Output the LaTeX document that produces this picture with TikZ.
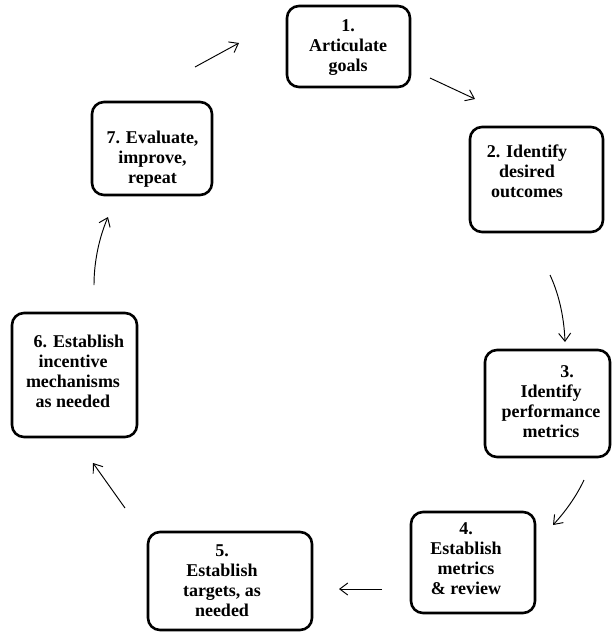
\documentclass[tikz,border=0pt]{standalone}
\usepackage{fontspec}
\setmainfont{Liberation Serif}
\usetikzlibrary{arrows.meta}
\begin{document}
\begin{tikzpicture}[x=1pt,y=-1pt,
  box/.style={draw=black,line width=2.6pt,rounded corners=12pt,inner sep=0pt,fill=white},
  txt/.style={align=center,inner sep=0pt,font=\bfseries\fontsize{18}{20}\selectfont},
  arr/.style={line width=0.95pt,-{Straight Barb[length=8pt,width=12pt,line width=0.95pt]}}]
\useasboundingbox (0,0) rectangle (611,632);
% boxes
\node[box,minimum width=123pt,minimum height=81pt] (b1) at (348.5,46.5) {};
\node[box,minimum width=133pt,minimum height=105pt] (b2) at (536.5,179.5) {};
\node[box,minimum width=125pt,minimum height=107pt] (b3) at (547.5,403.5) {};
\node[box,minimum width=124pt,minimum height=101pt] (b4) at (473,562.5) {};
\node[box,minimum width=164pt,minimum height=98pt] (b5) at (230,581) {};
\node[box,minimum width=125pt,minimum height=124pt] (b6) at (74.5,375) {};
\node[box,minimum width=120pt,minimum height=93pt] (b7) at (152,148.5) {};
% texts
\node[txt] (t1) at (348,48) {1.\\Articulate\\goals};
\node[txt] (t2) at (527,171) {2. Identify\\desired\\outcomes};
\node[txt] (t3) at (551,402) {\hspace*{32pt}3.\\Identify\\performance\\metrics};
\node[txt] (t4) at (466,559) {4.\\Establish\\metrics\\\& review};
\node[txt] (t5) at (222,581) {5.\\Establish\\targets, as\\needed};
\node[txt] (t6) at (73,371) {\hspace*{12pt}6. Establish\\incentive\\mechanisms\\as needed};
\node[txt] (t7) at (152.5,159) {7. Evaluate,\\improve,\\repeat};
% arrow end points
\coordinate (p71) at (195,67);  \coordinate (q71) at (239,43);
\coordinate (p12) at (430,78);  \coordinate (q12) at (475,99);
\coordinate (p23) at (550,275); \coordinate (q23) at (565,342);
\coordinate (p34) at (584,480); \coordinate (q34) at (553,525);
\coordinate (p45) at (382,589); \coordinate (q45) at (339,589);
\coordinate (p56) at (125,508); \coordinate (q56) at (93,463);
\coordinate (p67) at (94,285);  \coordinate (q67) at (108,217);
\draw[arr] (p71) -- (q71);
\draw[arr] (p12) -- (q12);
\draw[arr] (p23) .. controls (558,292) and (564,315) .. (q23);
\draw[arr] (p34) .. controls (576,497) and (565,512) .. (q34);
\draw[arr] (p45) -- (q45);
\draw[arr] (p56) -- (q56);
\draw[arr] (p67) .. controls (94,262) and (99,238) .. (q67);
\end{tikzpicture}
\end{document}
